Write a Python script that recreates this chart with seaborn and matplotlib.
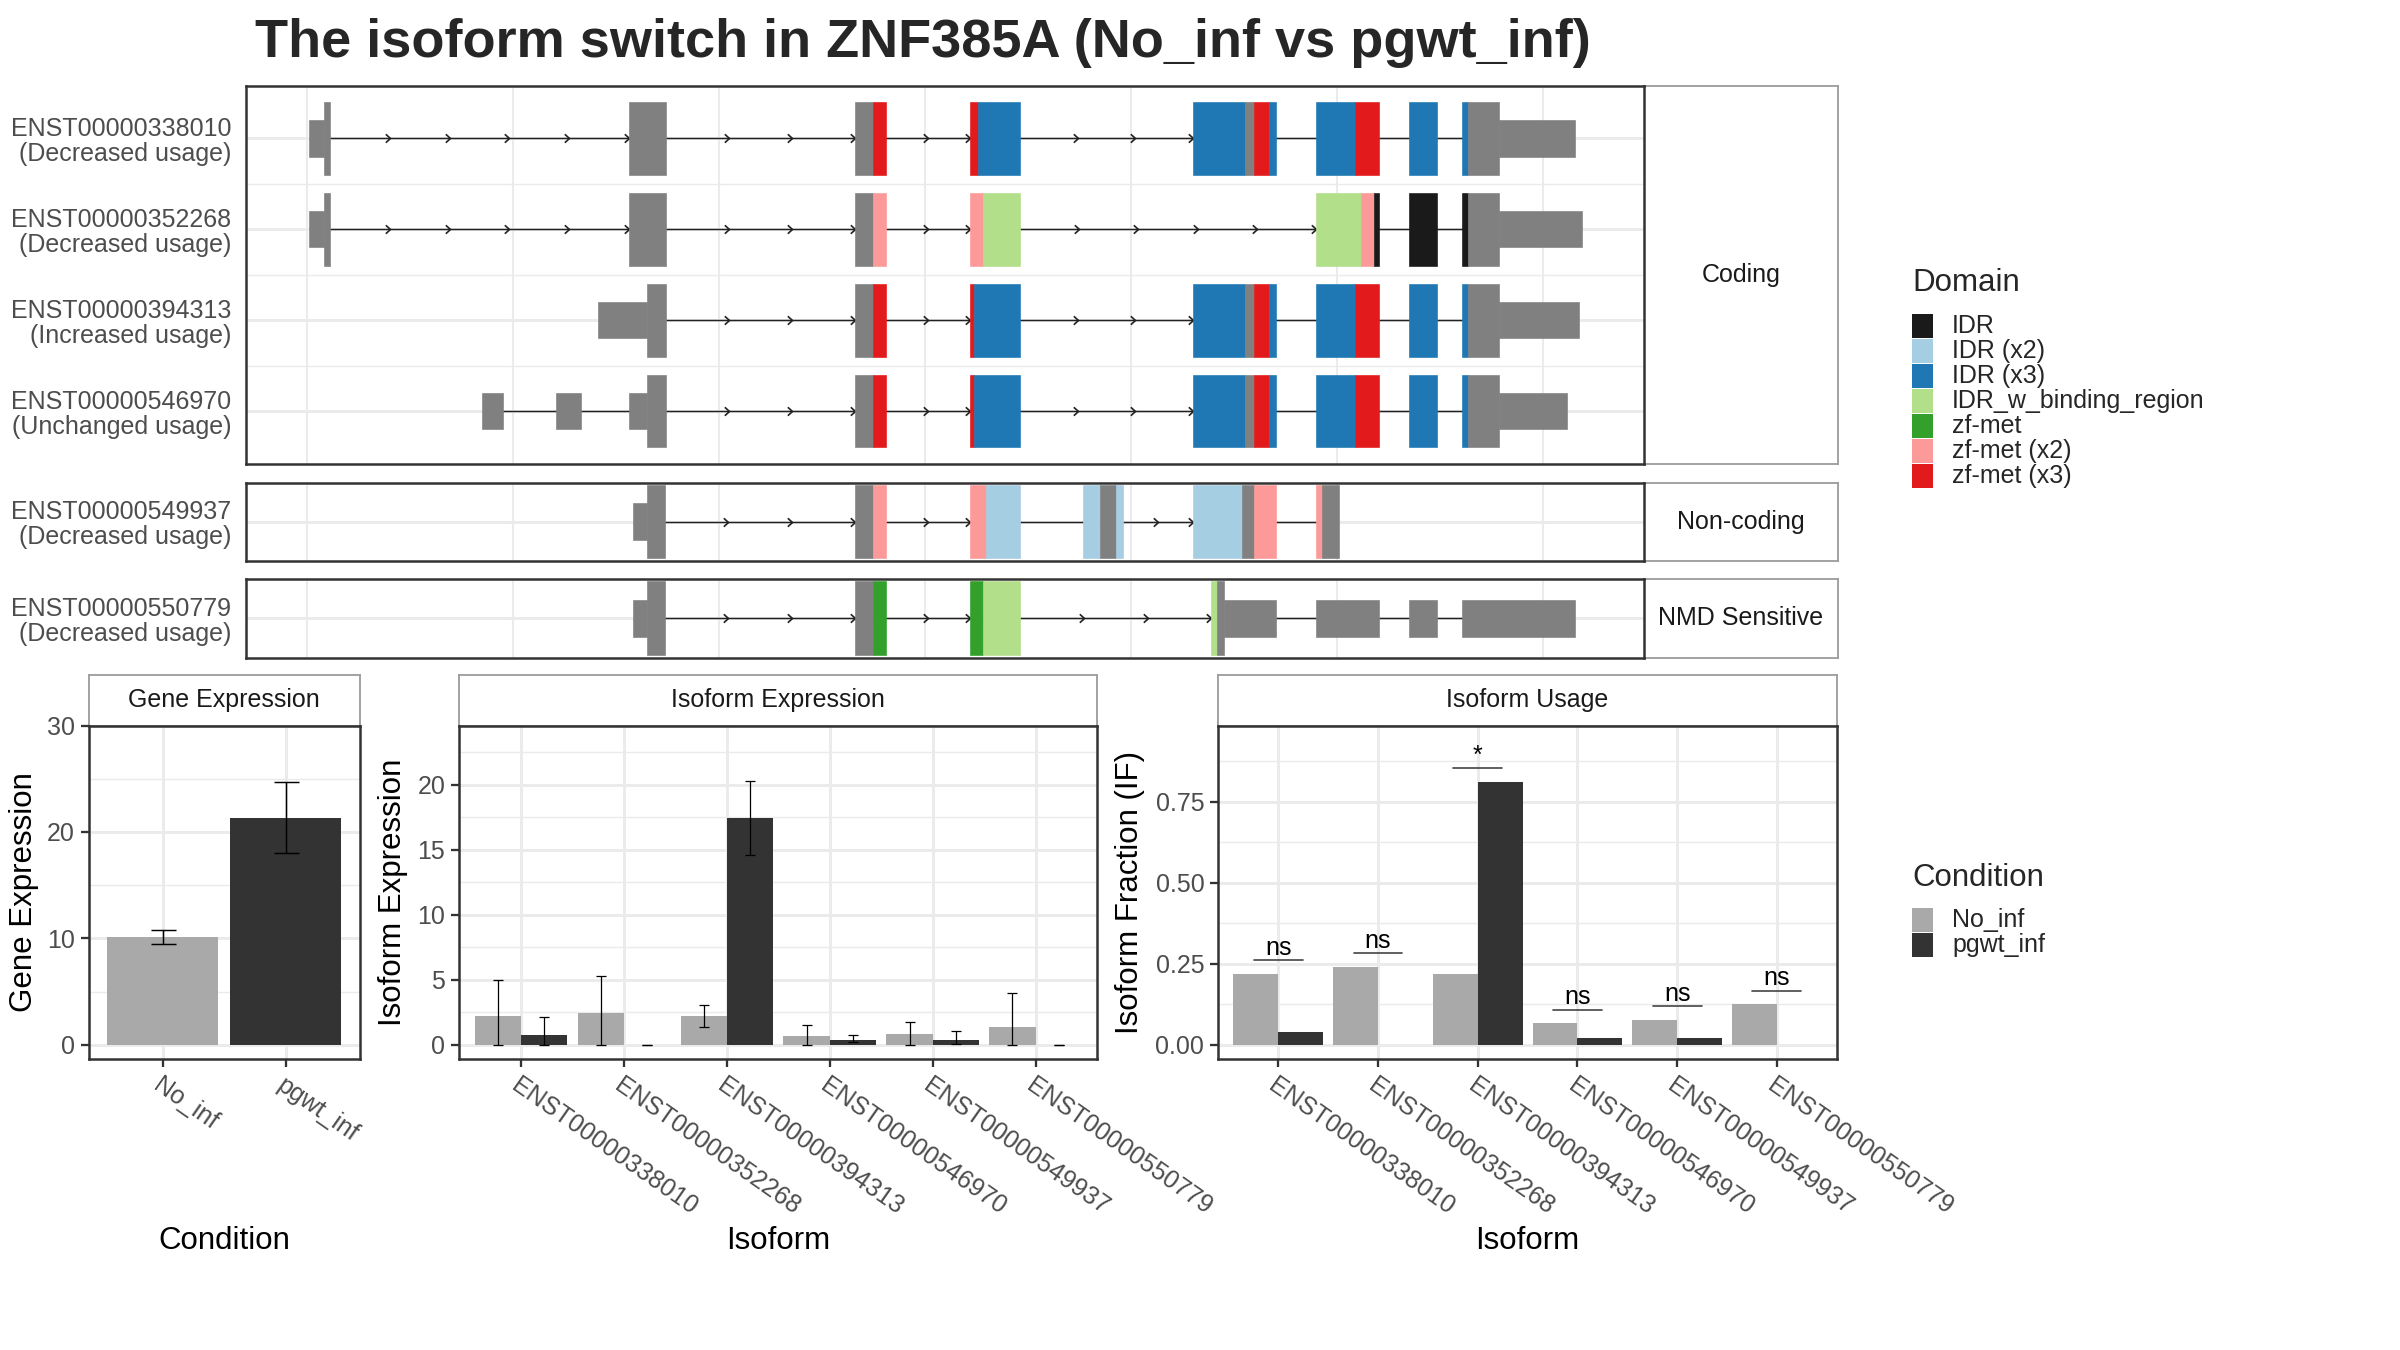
import numpy as np
import pandas as pd
import matplotlib
matplotlib.use("Agg")
import matplotlib.pyplot as plt
from matplotlib.path import Path
from matplotlib.patches import Rectangle
from matplotlib.ticker import FormatStrFormatter
import seaborn as sns

# -------------------------------------------------
# Data
# -------------------------------------------------

conditions = ["No_inf", "pgwt_inf"]
cond_colors = ["#A9A9A9", "#333333"]

domain_names = ["IDR", "IDR (x2)", "IDR (x3)", "IDR_w_binding_region",
                "zf-met", "zf-met (x2)", "zf-met (x3)"]
domain_colors = ["#1A1A1A", "#A6CEE3", "#1F78B4", "#B2DF8A",
                 "#33A02C", "#FB9A99", "#E31A1C"]

# exon pieces: (start, end, coding?, domain) in relative genomic units
tx_338010 = [(0.09, 0.84, 0, ""), (0.84, 1.11, 1, ""), (15.62, 17.41, 1, ""),
             (26.61, 27.46, 1, ""), (27.46, 28.11, 1, "zf-met (x3)"),
             (32.16, 32.55, 1, "zf-met (x3)"), (32.55, 34.61, 1, "IDR (x3)"),
             (43.00, 45.55, 1, "IDR (x3)"), (45.55, 45.95, 1, ""),
             (45.95, 46.68, 1, "zf-met (x3)"), (46.68, 47.05, 1, "IDR (x3)"),
             (48.97, 50.89, 1, "IDR (x3)"), (50.89, 52.05, 1, "zf-met (x3)"),
             (53.47, 54.84, 1, "IDR (x3)"), (56.05, 56.34, 1, "IDR (x3)"),
             (56.34, 57.87, 1, ""), (57.87, 61.55, 0, "")]
tx_352268 = [(0.09, 0.84, 0, ""), (0.84, 1.11, 1, ""), (15.62, 17.41, 1, ""),
             (26.61, 27.46, 1, ""), (27.46, 28.11, 1, "zf-met (x2)"),
             (32.16, 32.82, 1, "zf-met (x2)"), (32.82, 34.61, 1, "IDR_w_binding_region"),
             (48.97, 51.16, 1, "IDR_w_binding_region"), (51.16, 51.79, 1, "zf-met (x2)"),
             (51.79, 52.05, 1, "IDR"), (53.47, 54.84, 1, "IDR"),
             (56.05, 56.34, 1, "IDR"), (56.34, 57.87, 1, ""), (57.87, 61.89, 0, "")]
tx_394313 = [(14.12, 16.49, 0, ""), (16.49, 17.41, 1, ""),
             (26.61, 27.46, 1, ""), (27.46, 28.11, 1, "zf-met (x3)"),
             (32.16, 32.38, 1, "zf-met (x3)"), (32.38, 34.61, 1, "IDR (x3)"),
             (43.00, 45.55, 1, "IDR (x3)"), (45.55, 45.95, 1, ""),
             (45.95, 46.68, 1, "zf-met (x3)"), (46.68, 47.05, 1, "IDR (x3)"),
             (48.97, 50.89, 1, "IDR (x3)"), (50.89, 52.05, 1, "zf-met (x3)"),
             (53.47, 54.84, 1, "IDR (x3)"), (56.05, 56.34, 1, "IDR (x3)"),
             (56.34, 57.87, 1, ""), (57.87, 61.74, 0, "")]
tx_546970 = [(8.47, 9.51, 0, ""), (12.07, 13.28, 0, ""),
             (15.62, 16.49, 0, ""), (16.49, 17.41, 1, ""),
             (26.61, 27.46, 1, ""), (27.46, 28.11, 1, "zf-met (x3)"),
             (32.16, 32.38, 1, "zf-met (x3)"), (32.38, 34.61, 1, "IDR (x3)"),
             (43.00, 45.55, 1, "IDR (x3)"), (45.55, 45.95, 1, ""),
             (45.95, 46.68, 1, "zf-met (x3)"), (46.68, 47.05, 1, "IDR (x3)"),
             (48.97, 50.89, 1, "IDR (x3)"), (50.89, 52.05, 1, "zf-met (x3)"),
             (53.47, 54.84, 1, "IDR (x3)"), (56.05, 56.34, 1, "IDR (x3)"),
             (56.34, 57.87, 1, ""), (57.87, 61.16, 0, "")]
tx_549937 = [(15.81, 16.50, 0, ""), (16.50, 17.39, 1, ""),
             (26.58, 27.45, 1, ""), (27.45, 28.09, 1, "zf-met (x2)"),
             (32.20, 32.97, 1, "zf-met (x2)"), (32.97, 34.61, 1, "IDR (x2)"),
             (37.66, 38.47, 1, "IDR (x2)"), (38.47, 39.26, 1, ""),
             (39.26, 39.61, 1, "IDR (x2)"), (43.00, 45.37, 1, "IDR (x2)"),
             (45.37, 45.95, 1, ""), (45.95, 47.05, 1, "zf-met (x2)"),
             (48.97, 49.26, 1, "zf-met (x2)"), (49.26, 50.11, 1, "")]
tx_550779 = [(15.81, 16.50, 0, ""), (16.50, 17.39, 1, ""),
             (26.58, 27.45, 1, ""), (27.45, 28.09, 1, "zf-met"),
             (32.20, 32.80, 1, "zf-met"), (32.80, 34.61, 1, "IDR_w_binding_region"),
             (43.89, 44.16, 1, "IDR_w_binding_region"), (44.16, 44.52, 1, ""),
             (44.52, 47.05, 0, ""), (48.97, 52.05, 0, ""),
             (53.47, 54.84, 0, ""), (56.05, 61.55, 0, "")]

coding_labels = ["ENST00000338010\n(Decreased usage)",
                 "ENST00000352268\n(Decreased usage)",
                 "ENST00000394313\n(Increased usage)",
                 "ENST00000546970\n(Unchanged usage)"]
noncoding_labels = ["ENST00000549937\n(Decreased usage)"]
nmd_labels = ["ENST00000550779\n(Decreased usage)"]

# gene expression
gene_mean = [10.18, 21.29]
gene_lo = [9.50, 18.04]
gene_hi = [10.82, 24.70]

# isoform expression
isoforms = ["ENST00000338010", "ENST00000352268", "ENST00000394313",
            "ENST00000546970", "ENST00000549937", "ENST00000550779"]
iso_exp_no = [2.20, 2.42, 2.20, 0.64, 0.78, 1.33]
iso_exp_no_lo = [0.0, 0.0, 1.36, 0.0, 0.0, 0.0]
iso_exp_no_hi = [4.97, 5.28, 3.03, 1.47, 1.72, 4.00]
iso_exp_pg = [0.72, 0.0, 17.44, 0.39, 0.39, 0.0]
iso_exp_pg_lo = [0.0, 0.0, 14.56, 0.19, 0.05, 0.0]
iso_exp_pg_hi = [2.11, 0.0, 20.28, 0.72, 1.06, 0.0]

# isoform usage
iso_if_no = [0.218, 0.240, 0.218, 0.066, 0.076, 0.124]
iso_if_pg = [0.038, 0.0, 0.812, 0.019, 0.022, 0.0]
sig_labels = ["ns", "ns", "*", "ns", "ns", "ns"]

# -------------------------------------------------
# Figure setup
# -------------------------------------------------

sns.set_style("white")
plt.rcParams["font.family"] = ["Liberation Sans", "DejaVu Sans"]

W, H = 2400, 1350
fig = plt.figure(figsize=(16, 9), dpi=150)


def box(x0, y0, x1, y1):
    # pixel box (top-left origin) -> figure fraction rect
    return [x0 / W, 1 - y1 / H, (x1 - x0) / W, (y1 - y0) / H]


GRID = "#EBEBEB"
BORDER = "#333333"
TXT = "#4D4D4D"
dom_lookup = dict(zip(domain_names, domain_colors))
chevron = Path([(-1, 0.9), (0, 0), (-1, -0.9)],
               [Path.MOVETO, Path.LINETO, Path.LINETO])


def add_strip(rect, text, edge="#9E9E9E"):
    s = fig.add_axes(rect)
    s.set_xticks([])
    s.set_yticks([])
    s.set_facecolor("white")
    for sp in s.spines.values():
        sp.set_color(edge)
        sp.set_linewidth(0.9)
    s.text(0.5, 0.5, text, ha="center", va="center", fontsize=12,
           color="#1A1A1A", transform=s.transAxes)
    return s


def draw_transcripts(ax, rows, labels):
    for i, segs in enumerate(rows):
        y = i + 1
        # introns with direction arrows
        for a, b in zip(segs[:-1], segs[1:]):
            if b[0] > a[1] + 1e-6:
                ax.plot([a[1], b[0]], [y, y], color="#222222", lw=0.7, zorder=2)
                L = b[0] - a[1]
                n = 0 if L < 3.2 else max(2, int(round(L / 3)))
                if n:
                    xs = a[1] + L * np.arange(1, n + 1) / n
                    ax.plot(xs, [y] * n, ls="none", marker=chevron, ms=4.5,
                            mfc="none", mec="#222222", mew=0.8, zorder=3)
        # exons
        for s, e, cds, dom in segs:
            col = dom_lookup.get(dom, "#808080")
            ax.barh(y, e - s, left=s, height=0.8 if cds else 0.4,
                    color=col, edgecolor=col, lw=0.3, zorder=4)
    n = len(rows)
    ax.set_xlim(-2.95, 64.9)
    if n > 1:
        ax.set_ylim(n + 0.58, 0.42)
    else:
        ax.set_ylim(1.428, 0.572)
    ax.set_xticks(np.arange(0, 61, 10))
    ax.set_yticks(np.arange(1, n + 1))
    ax.set_yticks(np.arange(1.5, n, 1.0), minor=True)
    ax.set_yticklabels(labels, fontsize=12, color=TXT, linespacing=1.05,
                       ha="right", ma="right")
    ax.tick_params(axis="x", which="both", length=0, labelbottom=False)
    ax.tick_params(axis="y", which="both", length=0, pad=7.2)
    ax.grid(axis="x", color=GRID, lw=1.0)
    ax.grid(axis="y", which="major", color=GRID, lw=1.4)
    ax.grid(axis="y", which="minor", color=GRID, lw=0.7)
    ax.set_axisbelow(True)
    for sp in ax.spines.values():
        sp.set_visible(True)
        sp.set_color(BORDER)
        sp.set_linewidth(1.2)


def style_bar_ax(ax, ylim, major, minor, labels):
    ax.set_xlim(-0.6, len(labels) - 0.4)
    ax.set_ylim(*ylim)
    ax.set_yticks(major)
    ax.set_yticks(minor, minor=True)
    ax.set_xticks(np.arange(len(labels)))
    ax.set_xticklabels(labels, rotation=-35, ha="left", va="top",
                       rotation_mode="anchor")
    ax.grid(which="major", color=GRID, lw=1.4)
    ax.grid(which="minor", axis="y", color=GRID, lw=0.7)
    ax.set_axisbelow(True)
    ax.tick_params(which="major", bottom=True, left=True, length=3.75,
                   width=1.1, color=BORDER, labelsize=12, labelcolor=TXT, pad=3)
    ax.tick_params(which="minor", length=0)
    for sp in ax.spines.values():
        sp.set_visible(True)
        sp.set_color(BORDER)
        sp.set_linewidth(1.2)


# -------------------------------------------------
# Title
# -------------------------------------------------

fig.text(255 / W, 1 - 43 / H, "The isoform switch in ZNF385A (No_inf vs pgwt_inf)",
         fontsize=26, fontweight="bold", ha="left", va="center")

# -------------------------------------------------
# Transcript structure panels
# -------------------------------------------------

add_strip(box(1644, 85.7, 1837.6, 463.8), "Coding")
add_strip(box(1644, 482.7, 1837.6, 560.7), "Non-coding")
add_strip(box(1644, 578.7, 1837.6, 657.7), "NMD Sensitive")

ax_cod = fig.add_axes(box(246.4, 85.7, 1644, 463.8))
draw_transcripts(ax_cod, [tx_338010, tx_352268, tx_394313, tx_546970], coding_labels)

ax_non = fig.add_axes(box(246.4, 482.7, 1644, 560.7))
draw_transcripts(ax_non, [tx_549937], noncoding_labels)

ax_nmd = fig.add_axes(box(246.4, 578.7, 1644, 657.7))
draw_transcripts(ax_nmd, [tx_550779], nmd_labels)

# -------------------------------------------------
# Gene expression
# -------------------------------------------------

add_strip(box(88.8, 675, 359.7, 725.5), "Gene Expression")
ax_gene = fig.add_axes(box(88.8, 725.5, 359.7, 1059))
sns.barplot(x=conditions, y=gene_mean, hue=conditions, palette=cond_colors,
            width=0.9, saturation=1, errorbar=None, legend=False,
            linewidth=0, ax=ax_gene)
gm = np.array(gene_mean)
ax_gene.errorbar(np.arange(2), gm,
                 yerr=[gm - np.array(gene_lo), np.array(gene_hi) - gm],
                 fmt="none", ecolor="black", elinewidth=0.7, capsize=6,
                 capthick=0.7, zorder=5)
style_bar_ax(ax_gene, (-1.32, 30.0), [0, 10, 20, 30], [5, 15, 25], conditions)
ax_gene.set_ylabel("Gene Expression", fontsize=15, color="black")
ax_gene.yaxis.set_label_coords(-0.182, 0.5)
ax_gene.set_xlabel("Condition", fontsize=15, color="black", va="center")
ax_gene.xaxis.set_label_coords(0.5, -0.546)

# -------------------------------------------------
# Isoform expression
# -------------------------------------------------

iso_exp_df = pd.DataFrame({
    "isoform": isoforms * 2,
    "condition": ["No_inf"] * 6 + ["pgwt_inf"] * 6,
    "value": iso_exp_no + iso_exp_pg,
})

add_strip(box(459.2, 675, 1097.4, 725.5), "Isoform Expression")
ax_iex = fig.add_axes(box(459.2, 725.5, 1097.4, 1059))
sns.barplot(data=iso_exp_df, x="isoform", y="value", hue="condition",
            order=isoforms, hue_order=conditions, palette=cond_colors,
            width=0.9, saturation=1, errorbar=None, legend=False,
            linewidth=0, ax=ax_iex)
xs = np.arange(len(isoforms))
for off, m, lo, hi in [(-0.225, iso_exp_no, iso_exp_no_lo, iso_exp_no_hi),
                       (0.225, iso_exp_pg, iso_exp_pg_lo, iso_exp_pg_hi)]:
    m = np.array(m)
    ax_iex.errorbar(xs + off, m, yerr=[m - np.array(lo), np.array(hi) - m],
                    fmt="none", ecolor="black", elinewidth=0.6, capsize=2.6,
                    capthick=0.6, zorder=5)
style_bar_ax(ax_iex, (-1.11, 24.57), [0, 5, 10, 15, 20],
             [2.5, 7.5, 12.5, 17.5, 22.5], isoforms)
ax_iex.set_ylabel("Isoform Expression", fontsize=15, color="black")
ax_iex.yaxis.set_label_coords(-0.080, 0.5)
ax_iex.set_xlabel("Isoform", fontsize=15, color="black", va="center")
ax_iex.xaxis.set_label_coords(0.5, -0.546)

# -------------------------------------------------
# Isoform usage
# -------------------------------------------------

iso_if_df = pd.DataFrame({
    "isoform": isoforms * 2,
    "condition": ["No_inf"] * 6 + ["pgwt_inf"] * 6,
    "value": iso_if_no + iso_if_pg,
})

add_strip(box(1218.4, 675, 1836.7, 725.5), "Isoform Usage")
ax_use = fig.add_axes(box(1218.4, 725.5, 1836.7, 1059))
sns.barplot(data=iso_if_df, x="isoform", y="value", hue="condition",
            order=isoforms, hue_order=conditions, palette=cond_colors,
            width=0.9, saturation=1, errorbar=None, legend=False,
            linewidth=0, ax=ax_use)
for i, lab in enumerate(sig_labels):
    ytop = max(iso_if_no[i], iso_if_pg[i]) + 0.042
    ax_use.plot([i - 0.245, i + 0.245], [ytop, ytop], color="#444444", lw=0.8)
    ax_use.text(i, ytop + 0.017, lab, ha="center", va="baseline",
                fontsize=12, color="black")
style_bar_ax(ax_use, (-0.0444, 0.9856), [0, 0.25, 0.5, 0.75],
             [0.125, 0.375, 0.625, 0.875], isoforms)
ax_use.yaxis.set_major_formatter(FormatStrFormatter("%.2f"))
ax_use.set_ylabel("Isoform Fraction (IF)", fontsize=15, color="black")
ax_use.yaxis.set_label_coords(-0.119, 0.5)
ax_use.set_xlabel("Isoform", fontsize=15, color="black", va="center")
ax_use.xaxis.set_label_coords(0.5, -0.546)

# -------------------------------------------------
# Legends (drawn on a pixel-space overlay)
# -------------------------------------------------

ov = fig.add_axes([0, 0, 1, 1])
ov.set_xlim(0, W)
ov.set_ylim(H, 0)
ov.axis("off")

ov.text(1912, 283, "Domain", fontsize=15, ha="left", va="center")
for i, (name, col) in enumerate(zip(domain_names, domain_colors)):
    y0 = 314 + 25.0 * i
    ov.add_patch(Rectangle((1912, y0), 21, 24, facecolor=col, lw=0))
    ov.text(1952, y0 + 12, name, fontsize=12, ha="left", va="center")

ov.text(1912, 878, "Condition", fontsize=15, ha="left", va="center")
for i, (name, col) in enumerate(zip(conditions, cond_colors)):
    y0 = 908 + 25.0 * i
    ov.add_patch(Rectangle((1912, y0), 21, 24, facecolor=col, lw=0))
    ov.text(1952, y0 + 12, name, fontsize=12, ha="left", va="center")

plt.savefig("out.png", dpi=150)
